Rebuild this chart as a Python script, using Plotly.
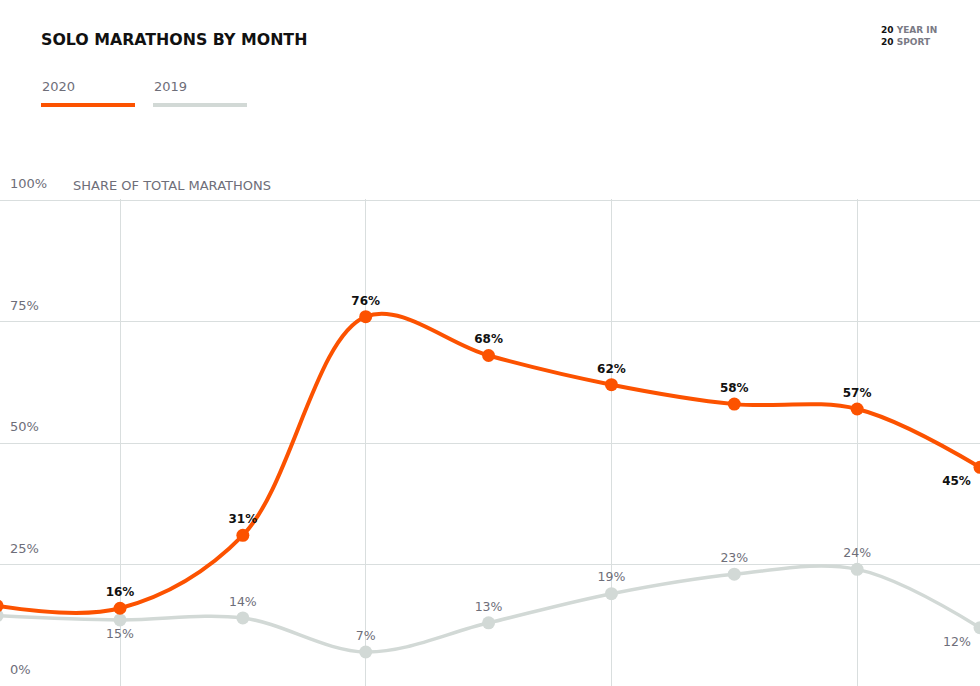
import plotly.graph_objects as go

# ---- data ----
months = ["Jan", "Feb", "Mar", "Apr", "May", "Jun", "Jul", "Aug", "Sep"]
share_2020 = [16.5, 16, 31, 76, 68, 62, 58, 57, 45]
share_2019 = [14.5, 13.6, 14, 7, 13, 19, 23, 24, 12]
# point labels as printed on the chart (first month is outside the visible window)
labels_2020 = ["", "16%", "31%", "76%", "68%", "62%", "58%", "57%", "45%"]
labels_2019 = ["", "15%", "14%", "7%", "13%", "19%", "23%", "24%", "12%"]
pos_2020 = ["top center"] * 8 + ["bottom left"]
pos_2019 = ["top center", "bottom center", "top center", "top center", "top center",
            "top center", "top center", "top center", "bottom left"]
y_ticks = [0, 25, 50, 75, 100]
y_tick_labels = ["0%", "25%", "50%", "75%", "100%"]
grid_months = [1, 3, 5, 7]

ORANGE = "#FC5200"
GREY_LINE = "#D2D9D6"
GREY_TEXT = "#6E6E79"
GRID = "#D9DEDE"
FONT = "DejaVu Sans"

x = list(range(len(months)))

fig = go.Figure()
fig.add_trace(go.Scatter(
    x=x, y=share_2019, mode="lines+markers+text", name="2019",
    line=dict(color=GREY_LINE, width=3.5, shape="spline", smoothing=1),
    marker=dict(color=GREY_LINE, size=13),
    text=labels_2019, textposition=pos_2019,
    textfont=dict(family=FONT, size=12.5, color=GREY_TEXT),
    hoverinfo="skip",
))
fig.add_trace(go.Scatter(
    x=x, y=share_2020, mode="lines+markers+text", name="2020",
    line=dict(color=ORANGE, width=4, shape="spline", smoothing=1),
    marker=dict(color=ORANGE, size=13),
    text=labels_2020, textposition=pos_2020,
    textfont=dict(family=FONT, size=12, color="#111111", weight="bold"),
    hoverinfo="skip",
))

W, H = 980, 686
TOP = 170          # plot area top (pixels); the 100% line sits at 200 px
Y_MIN = 0
Y100_PIX = 200
scale = (H - Y100_PIX) / 100.0
Y_MAX = 100 + (Y100_PIX - TOP) / scale


def py(pix):
    return (H - pix) / (H - TOP)


def px(pix):
    return pix / W


annotations = [
    dict(text="<b>SOLO MARATHONS BY MONTH</b>", x=px(39), y=py(39), xanchor="left",
         yanchor="middle", font=dict(family=FONT, size=15.8, color="#111111")),
    dict(text="2020", x=px(40), y=py(87), xanchor="left", yanchor="middle",
         font=dict(family=FONT, size=13, color=GREY_TEXT)),
    dict(text="2019", x=px(152), y=py(87), xanchor="left", yanchor="middle",
         font=dict(family=FONT, size=13, color=GREY_TEXT)),
    dict(text="SHARE OF TOTAL MARATHONS", x=px(71), y=py(185), xanchor="left",
         yanchor="middle", font=dict(family=FONT, size=13, color=GREY_TEXT)),
    dict(text="<b>20 <span style='color:#7a7a85'>YEAR IN</span><br>20 <span style='color:#7a7a85'>SPORT</span></b>",
         x=px(879), y=py(36), xanchor="left", yanchor="middle", align="left",
         font=dict(family=FONT, size=9, color="#111111")),
]
for a in annotations:
    a.update(xref="paper", yref="paper", showarrow=False)

shapes = [
    # white band above the 100% line hides the vertical grid lines there
    dict(type="rect", xref="paper", yref="y", x0=px(60), x1=1, y0=100.2, y1=Y_MAX + 1,
         fillcolor="white", line=dict(width=0), layer="above"),
    dict(type="line", xref="paper", yref="paper", x0=px(41), x1=px(135), y0=py(105), y1=py(105),
         line=dict(color=ORANGE, width=4)),
    dict(type="line", xref="paper", yref="paper", x0=px(153), x1=px(247), y0=py(105), y1=py(105),
         line=dict(color=GREY_LINE, width=4)),
]

fig.update_layout(
    width=W, height=H,
    margin=dict(l=0, r=0, t=TOP, b=0, pad=0),
    paper_bgcolor="white", plot_bgcolor="white",
    showlegend=False,
    annotations=annotations, shapes=shapes,
    xaxis=dict(range=[0.0233, 8], tickvals=grid_months, showticklabels=False,
               showgrid=True, gridcolor=GRID, gridwidth=1, zeroline=False,
               showline=False, ticks="", fixedrange=True),
    yaxis=dict(range=[Y_MIN, Y_MAX], tickvals=y_ticks, ticktext=y_tick_labels,
               ticklabelposition="inside top", ticklabelstandoff=7, ticklabelshift=-7,
               tickfont=dict(family=FONT, size=13, color=GREY_TEXT),
               showgrid=True, gridcolor=GRID, gridwidth=1, zeroline=False,
               showline=False, ticks="", fixedrange=True),
)

fig.write_html("out.html", config={"displayModeBar": False},
               post_script="document.body.style.margin='0px';")
